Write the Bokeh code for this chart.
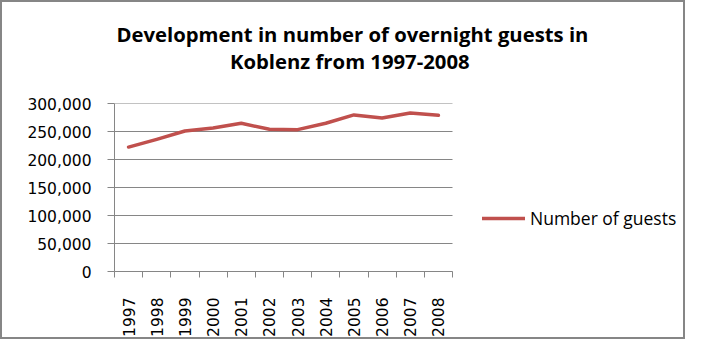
import numpy as np
from bokeh.plotting import figure
from bokeh.models import (Range1d, FixedTicker, NumeralTickFormatter, Legend, LegendItem,
                          Title, InlineStyleSheet)
from bokeh.embed import file_html
from bokeh.resources import INLINE

title_lines = ["Development in number of overnight guests in", "Koblenz from 1997-2008"]
years = ["1997", "1998", "1999", "2000", "2001", "2002", "2003", "2004", "2005", "2006", "2007", "2008"]
guests = [222200, 236000, 250900, 256300, 264700, 253900, 253300, 264700, 279600, 274200, 283100, 279000]
y_ticks = [0, 50000, 100000, 150000, 200000, 250000, 300000]
series_name = "Number of guests"

RED = "#C0504D"
GRAY = "#868686"

W, H = 685, 339
LEFT, TOP, BOTTOM = 114, 103, 68
PLOT_W = 338  # pixel width of the category area; the frame continues right to hold the legend

n = len(years)
xs = np.arange(n) + 0.5
x_end = n * (W - LEFT) / PLOT_W

p = figure(width=W, height=H, output_backend="svg", toolbar_location=None,
           x_range=Range1d(0, x_end), y_range=Range1d(y_ticks[0], y_ticks[-1]),
           min_border_left=LEFT, min_border_right=0, min_border_top=TOP, min_border_bottom=BOTTOM)
p.stylesheets = [InlineStyleSheet(css=(
    ":host { position: relative; }"
    ":host::after { content: ''; position: absolute; left: 0; top: 0; right: 0; bottom: 0;"
    " border: 2px solid #868686; pointer-events: none; z-index: 100; }"))]

# title: two lines, line 2 nearest the frame
p.title.text = title_lines[0]
p.title.align = "left"
p.title.offset = 2
p.title.standoff = -63
p.title.text_font = "Open Sans"
p.title.text_font_size = "20.3px"
p.title.text_font_style = "bold"
p.title.text_color = "black"
t2 = Title(text=title_lines[1], align="left", offset=115.5, standoff=57,
           text_font="Open Sans", text_font_size="20.3px", text_font_style="bold",
           text_color="black")
p.add_layout(t2, "above")

p.outline_line_color = None
p.background_fill_color = "white"
p.border_fill_color = "white"
p.xgrid.grid_line_color = None
p.ygrid.grid_line_color = None

# horizontal gridlines limited to the category area
p.segment(x0=[0] * len(y_ticks), x1=[n] * len(y_ticks), y0=y_ticks, y1=y_ticks,
          line_color=GRAY, line_width=1)

r = p.line(xs, guests, line_color=RED, line_width=3.5, line_join="round", line_cap="round")

# x axis: labels at centers, tick marks at category boundaries
xa = p.xaxis[0]
xa.bounds = (0, n)
xa.ticker = FixedTicker(ticks=list(xs), minor_ticks=list(range(n + 1)))
xa.major_label_overrides = {float(x): y for x, y in zip(xs, years)}
xa.major_label_orientation = np.pi / 2
xa.major_tick_out = 0
xa.major_tick_in = 0
xa.minor_tick_out = 6
xa.minor_tick_in = 0
xa.minor_tick_line_color = GRAY
xa.axis_line_color = GRAY
xa.major_label_standoff = 20
xa.major_label_text_font = "DejaVu Sans"
xa.major_label_text_font_size = "15.5px"
xa.major_label_text_color = "black"

ya = p.yaxis[0]
ya.ticker = FixedTicker(ticks=y_ticks)
ya.formatter = NumeralTickFormatter(format="0,0")
ya.major_tick_out = 7
ya.major_tick_in = 0
ya.minor_tick_line_color = None
ya.major_tick_line_color = GRAY
ya.axis_line_color = GRAY
ya.major_label_standoff = 16
ya.major_label_text_font = "DejaVu Sans"
ya.major_label_text_font_size = "15.5px"
ya.major_label_text_color = "black"

legend = Legend(items=[LegendItem(label=series_name, renderers=[r])],
                location=(368, 41), glyph_width=43, glyph_height=16, label_standoff=5,
                padding=0, margin=0, spacing=0, border_line_color=None,
                background_fill_alpha=0, label_text_font="Open Sans",
                label_text_font_size="17.5px", label_text_color="black")
p.add_layout(legend)

open("out.html", "w").write(file_html(p, INLINE))
